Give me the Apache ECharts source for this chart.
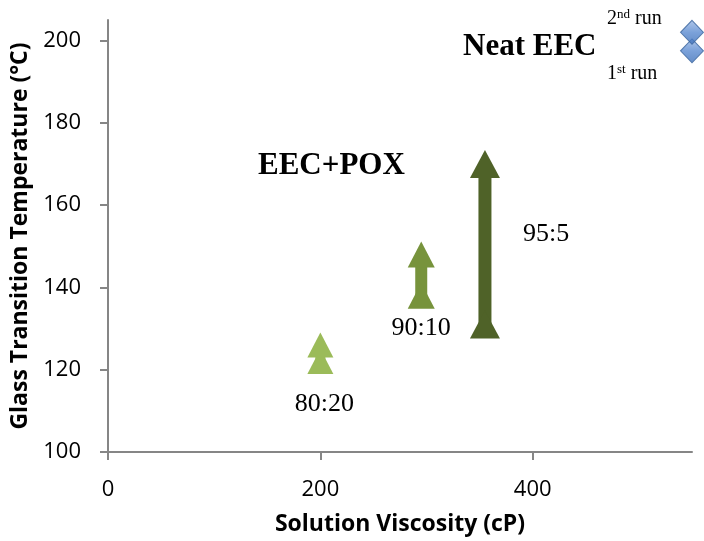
<!DOCTYPE html>
<html>
<head>
<meta charset="utf-8">
<script src="https://cdn.jsdelivr.net/npm/echarts@6/dist/echarts.min.js"></script>
<style>
  html, body { margin: 0; padding: 0; background: #fff; }
  #chart { width: 704px; height: 541px; }
</style>
</head>
<body>
<div id="chart"></div>
<script>
// Blend ratios (EEC:POX) and their measured points
const blends = ['80:20', '90:10', '95:5'];
const viscosity = [200, 295, 355];
const tgFirstRun = [122, 138, 131];
const tgSecondRun = [126, 148, 170];
const blendColors = ['#9BBB59', '#77933C', '#4F6228'];

// Neat EEC reference (first and second heating run)
const neatViscosity = 550;
const neatTg = [197.5, 202];

const xTicks = [0, 200, 400];
const yTicks = [100, 120, 140, 160, 180, 200];

const serif = '"Liberation Serif", "Times New Roman", serif';
const sans = '"Open Sans", "Noto Sans", sans-serif';

const chart = echarts.init(document.getElementById('chart'));

const shapeSizes = [[26, 25], [27, 26], [30, 28]];
const shaftWidths = [10, 12, 13];
const labelSetup = [
  { idx: 0, position: 'bottom', offset: [4, 12] },
  { idx: 0, position: 'bottom', offset: [0, 2] },
  { idx: 1, position: 'right', offset: [18, 70] }
];

const blendSeries = blends.map((name, i) => ({
  name: name,
  type: 'line',
  data: [[viscosity[i], tgFirstRun[i]], [viscosity[i], tgSecondRun[i]]],
  symbol: 'triangle',
  symbolSize: shapeSizes[i],
  showAllSymbol: true,
  lineStyle: { color: blendColors[i], width: shaftWidths[i] },
  itemStyle: { color: blendColors[i] },
  z: 3,
  label: {
    show: true,
    formatter: (p) => (p.dataIndex === labelSetup[i].idx ? name : ''),
    position: labelSetup[i].position,
    offset: labelSetup[i].offset,
    fontFamily: serif,
    fontSize: 26,
    color: '#000'
  }
}));

const option = {
  animation: false,
  grid: { left: 108, right: 12, top: 20, bottom: 88 },
  xAxis: {
    type: 'value',
    min: 0,
    max: 550,
    name: 'Solution Viscosity (cP)',
    nameLocation: 'middle',
    nameGap: 61,
    nameTextStyle: { fontFamily: sans, fontWeight: 'bold', fontSize: 23, color: '#000' },
    axisLine: { show: true, onZero: false, lineStyle: { color: '#868686', width: 2 } },
    axisTick: { show: true, length: 8, customValues: xTicks, lineStyle: { color: '#868686', width: 2 } },
    axisLabel: { customValues: xTicks, fontFamily: sans, fontSize: 22, color: '#000', margin: 27 },
    splitLine: { show: false }
  },
  yAxis: {
    type: 'value',
    min: 100,
    max: 205,
    name: 'Glass Transition Temperature (°C)',
    nameLocation: 'middle',
    nameGap: 75,
    nameRotate: 90,
    nameTextStyle: { fontFamily: sans, fontWeight: 'bold', fontSize: 23, color: '#000' },
    axisLine: { show: true, onZero: false, lineStyle: { color: '#868686', width: 2 } },
    axisTick: { show: true, length: 8, customValues: yTicks, lineStyle: { color: '#868686', width: 2 } },
    axisLabel: { customValues: yTicks, fontFamily: sans, fontSize: 22, color: '#000', margin: 27 },
    splitLine: { show: false }
  },
  series: blendSeries.concat([{
    name: 'Neat EEC',
    type: 'scatter',
    data: neatTg.map(t => [neatViscosity, t]),
    symbol: 'diamond',
    symbolSize: [23, 24],
    z: 4,
    itemStyle: {
      color: new echarts.graphic.LinearGradient(0, 0, 0, 1, [
        { offset: 0, color: '#9DB9E4' },
        { offset: 0.5, color: '#5A8AD0' },
        { offset: 1, color: '#3D6FB8' }
      ]),
      borderColor: '#3A649C',
      borderWidth: 1
    }
  }]),
  graphic: [
    {
      type: 'text', left: 258, top: 150,
      style: { text: 'EEC+POX', fontFamily: serif, fontWeight: 'bold', fontSize: 31, fill: '#000' }
    },
    {
      type: 'text', left: 463, top: 31,
      style: { text: 'Neat EEC', fontFamily: serif, fontWeight: 'bold', fontSize: 31, fill: '#000' }
    },
    {
      type: 'text', left: 607, top: 8,
      style: {
        text: '2{sup|nd} run',
        fontFamily: serif, fontSize: 20, fill: '#000',
        rich: { sup: { fontFamily: serif, fontSize: 13, verticalAlign: 'top', padding: [0, 0, 8, 0] } }
      }
    },
    {
      type: 'text', left: 607, top: 63,
      style: {
        text: '1{sup|st} run',
        fontFamily: serif, fontSize: 20, fill: '#000',
        rich: { sup: { fontFamily: serif, fontSize: 13, verticalAlign: 'top', padding: [0, 0, 8, 0] } }
      }
    }
  ]
};

chart.setOption(option);
</script>
</body>
</html>
